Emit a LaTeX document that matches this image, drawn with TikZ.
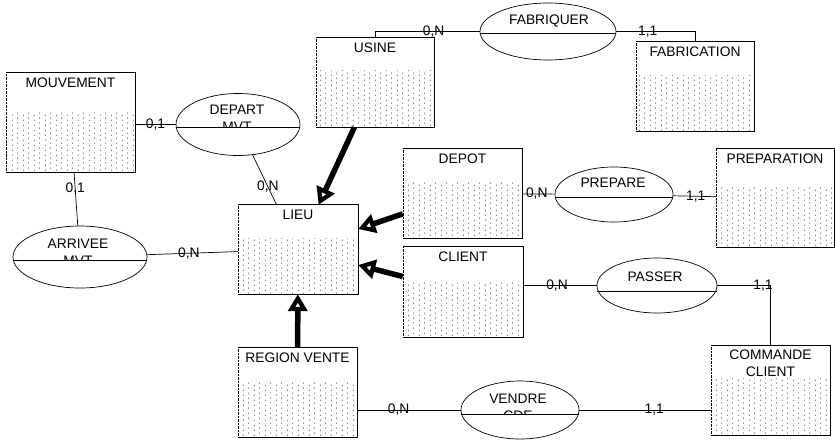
\documentclass[tikz,border=0pt]{standalone}
\usepackage{fontspec}
\setmainfont{Liberation Sans}
\usetikzlibrary{positioning,arrows.meta,shapes.geometric,patterns.meta}

\tikzdeclarepattern{
  name=entdots,
  type=uncolored,
  bottom left={(0pt,0pt)},
  top right={(11pt,5pt)},
  tile size={(11pt,5pt)},
  code={\fill (1.5pt,1pt) circle (0.6pt); \fill (7pt,3.5pt) circle (0.6pt);}
}

\begin{document}
\begin{tikzpicture}[x=1pt,y=-1pt,
			every node/.style={font=\fontsize{13.8pt}{17pt}\selectfont},
			entity/.style={rectangle, inner sep=0pt},
			title/.style={anchor=north, inner sep=0pt, align=center},
			relation/.style={ellipse, draw, line width=0.7pt, inner sep=0pt},
			reltext/.style={anchor=north, inner sep=0pt, align=center},
			card/.style={inner sep=0pt},
			link/.style={line width=0.7pt},
			isa/.style={line width=5.5pt, -{Triangle[open,length=17pt,width=19pt]}}]
			
			\useasboundingbox (0,0) rectangle (835,440);
			
			% entites
			\node[entity, minimum width=129pt, minimum height=99pt](mvt) at (70.5,122.5){};
			\node[entity, minimum width=118pt, minimum height=89pt](usine) at (375,82.5){};
			\node[entity, minimum width=118pt, minimum height=89pt](fab) at (695,86.5){};
			\node[entity, minimum width=119pt, minimum height=89pt](depot) at (462.5,193.5){};
			\node[entity, minimum width=118pt, minimum height=98pt](prep) at (775,198){};
			\node[entity, minimum width=120pt, minimum height=90pt](client) at (463,292){};
			\node[entity, minimum width=120pt, minimum height=89pt](lieu) at (298,249.5){};
			\node[entity, minimum width=119pt, minimum height=89pt](region) at (297.5,392.5){};
			\node[entity, minimum width=119pt, minimum height=89pt](cmd) at (770.5,390.5){};
			
			\foreach \xa/\ya/\xb/\yb in {6/111/135/172, 316/70/434/127, 636/75/754/131,
				403/182/522/238, 716/187/834/247, 403/281/523/337, 238/238/358/294,
				238/382/357/437, 711/378/830/435}
				\fill[pattern=entdots, pattern color=black!85] (\xa,\ya) rectangle (\xb,\yb);
			
			\foreach \n in {mvt,usine,fab,depot,prep,client,lieu,region,cmd}{
				\draw[link] (\n.north west) -- (\n.north east) -- (\n.south east) -- (\n.south west);
				\draw[densely dotted] (\n.south west) -- (\n.north west);
			}
			
			\node[title](mvtT) at ([yshift=-4.5pt]mvt.north){MOUVEMENT};
			\node[title](usineT) at ([yshift=-4.5pt]usine.north){USINE};
			\node[title](fabT) at ([yshift=-4.5pt]fab.north){FABRICATION};
			\node[title](depotT) at ([yshift=-4.5pt]depot.north){DEPOT};
			\node[title](prepT) at ([yshift=-5pt]prep.north){PREPARATION};
			\node[title](clientT) at ([yshift=-4.5pt]client.north){CLIENT};
			\node[title](lieuT) at ([yshift=-4.5pt]lieu.north){LIEU};
			\node[title](regionT) at ([yshift=-4.5pt]region.north){REGION VENTE};
			\node[title](cmdT) at ([yshift=-4pt]cmd.north){COMMANDE\\CLIENT};
			
			% associations
			\node[relation, minimum width=124pt, minimum height=62pt](depart) at (238,124.5){};
			\node[relation, minimum width=136pt, minimum height=57pt](fabriquer) at (548,31.5){};
			\node[relation, minimum width=118pt, minimum height=55pt](prepare) at (614,194.5){};
			\node[relation, minimum width=120pt, minimum height=55pt](passer) at (657,285.5){};
			\node[relation, minimum width=134pt, minimum height=62pt](arrivee) at (80,257){};
			\node[relation, minimum width=118pt, minimum height=58pt](vendre) at (520,410){};
			
			\begin{scope}
				\clip (depart.west |- depart.north) rectangle ([yshift=-2.5pt]depart.east);
				\node[reltext](departT) at (237,105){DEPART\\MVT};
			\end{scope}
			\begin{scope}
				\clip (arrivee.west |- arrivee.north) rectangle ([yshift=-3pt]arrivee.east);
				\node[reltext](arriveeT) at (78,239){ARRIVEE\\MVT};
			\end{scope}
			\begin{scope}
				\clip (vendre.west |- vendre.north) rectangle ([yshift=-4pt]vendre.east);
				\node[reltext](vendreT) at (518,394){VENDRE\\CDE};
			\end{scope}
			\node[reltext](fabriquerT) at (549,15){FABRIQUER};
			\node[reltext](prepareT) at (613,178){PREPARE};
			\node[reltext](passerT) at (655,272){PASSER};
			
			\foreach \r/\m in {depart/2.5, fabriquer/1.5, prepare/2.5, passer/5.5, arrivee/3, vendre/4}
				\draw[link] ([yshift=-\m pt]\r.west) -- ([yshift=-\m pt]\r.east);
			
			% liens
			\draw[link](mvt.east |- depart.west) -- node[card, midway](c1){0,1} (depart.west);
			\draw[link](depart) -- node[card, pos=0.64](c2){0,N} (lieu);
			\draw[link](mvt) -- node[card, pos=0.31](c3){0,1} (arrivee);
			\draw[link](arrivee) -- node[card, pos=0.46](c4){0,N} (lieu);
			\draw[link](usine.north) |- node[card, pos=0.78](c5){0,N} (fabriquer.west);
			\draw[link](fabriquer.east) -| node[card, pos=0.2](c6){1,1} (fab.north);
			\draw[link](depot) -- node[card, pos=0.45](c7){0,N} (prepare);
			\draw[link](prepare) -- node[card, pos=0.53](c8){1,1} (prep);
			\draw[link](client.east |- passer.west) -- node[card, pos=0.46](c9){0,N} (passer.west);
			\draw[link](passer.east) -| node[card, pos=0.43](c10){1,1} (cmd.north);
			\draw[link](region.east |- vendre.west) -- node[card, pos=0.4](c11){0,N} (vendre.west);
			\draw[link](vendre.east) -- node[card, pos=0.57](c12){1,1} (vendre.east -| cmd.west);
			
			% heritage vers LIEU
			\draw[isa](usine) -- (lieu);
			\draw[isa](depot) -- (lieu);
			\draw[isa](client) -- (lieu);
			\draw[isa](region) -- (lieu);
			
		\end{tikzpicture}
\end{document}
